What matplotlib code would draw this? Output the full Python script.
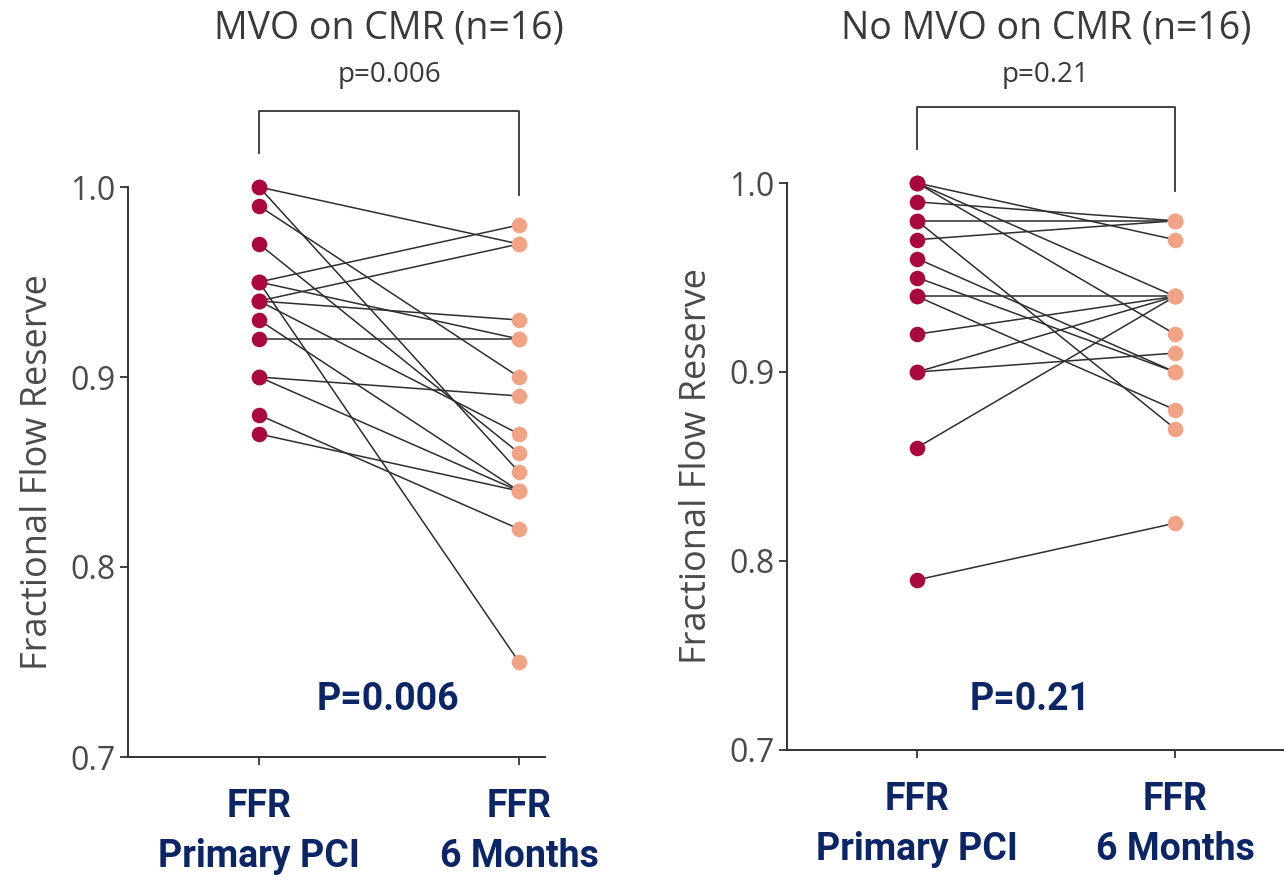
import matplotlib
matplotlib.use("Agg")
import matplotlib.pyplot as plt

# Paired FFR values per patient: at primary PCI and at 6 months
mvo_pci = [1.00, 1.00, 0.99, 0.97, 0.95, 0.95, 0.95, 0.94, 0.94, 0.94, 0.93, 0.92, 0.90, 0.90, 0.88, 0.87]
mvo_6m = [0.97, 0.85, 0.90, 0.86, 0.98, 0.92, 0.75, 0.97, 0.93, 0.87, 0.84, 0.92, 0.89, 0.84, 0.82, 0.84]

nomvo_pci = [1.00, 1.00, 1.00, 0.99, 0.98, 0.98, 0.97, 0.96, 0.95, 0.94, 0.94, 0.92, 0.90, 0.90, 0.86, 0.79]
nomvo_6m = [0.97, 0.94, 0.92, 0.98, 0.98, 0.87, 0.98, 0.90, 0.90, 0.94, 0.88, 0.94, 0.94, 0.91, 0.94, 0.82]

titles = ["MVO on CMR (n=16)", "No MVO on CMR (n=16)"]
p_small = ["p=0.006", "p=0.21"]
p_big = ["P=0.006", "P=0.21"]
x_labels = ["FFR\nPrimary PCI", "FFR\n6 Months"]
y_ticks = [0.7, 0.8, 0.9, 1.0]

NAVY = "#0b2566"
GREY_TXT = "#4a4a4a"
PCI_COL = "#a8083e"
M6_COL = "#f2a285"
LINE_COL = "#2e2e2e"
BOLD_FONT = ["Roboto", "DejaVu Sans"]

fig = plt.figure(figsize=(12.84, 8.82), dpi=100)
W, H = 1284, 882

def px_axes(l, r, top, bot):
    return fig.add_axes([l / W, 1 - bot / H, (r - l) / W, (bot - top) / H])

axes = [px_axes(128, 545, 187, 757), px_axes(787, 1284, 183, 750)]
xlims = [(-0.504, 1.1), (-0.504, 1.422)]
groups = [(mvo_pci, mvo_6m), (nomvo_pci, nomvo_6m)]
centers = [389, 1046]
pbig_x = [388, 1030]

for i, ax in enumerate(axes):
    pci, m6 = groups[i]
    for a, b in zip(pci, m6):
        ax.plot([0, 1], [a, b], color=LINE_COL, lw=1.1, zorder=2, clip_on=False)
    ax.scatter([0] * len(pci), pci, s=125, color=PCI_COL, zorder=3,
               clip_on=False, linewidths=0)
    ax.scatter([1] * len(m6), m6, s=125, color=M6_COL, zorder=3,
               clip_on=False, linewidths=0)

    ax.set_xlim(*xlims[i])
    ax.set_ylim(0.7, 1.0)
    ax.set_yticks(y_ticks)
    ax.set_yticklabels([f"{t:.1f}" for t in y_ticks], fontsize=23,
                       color=GREY_TXT, family="Open Sans")
    ax.set_xticks([0, 1])
    ax.set_xticklabels(x_labels, fontsize=27, color=NAVY, fontweight="bold",
                       family=BOLD_FONT, linespacing=1.45)
    ax.tick_params(axis="both", direction="out", length=6, width=1.3,
                   color="#333333")
    ax.tick_params(axis="x", pad=16)
    ax.tick_params(axis="y", pad=3)
    for s in ["top", "right"]:
        ax.spines[s].set_visible(False)
    for s in ["left", "bottom"]:
        ax.spines[s].set_color("#333333")
        ax.spines[s].set_linewidth(1.4)
    ax.set_ylabel("Fractional Flow Reserve", fontsize=26, color=GREY_TXT,
                  family="Open Sans", labelpad=10)
    ax.patch.set_alpha(0)

    # significance bracket above the two columns
    top = 1.04
    ax.plot([0, 0, 1, 1], [1.018, top, top, 0.996], color="#333333",
            lw=1.3, clip_on=False)

    fig.text(centers[i] / W, 1 - 28 / H, titles[i], ha="center", va="center",
             fontsize=27, color="#3a3a3a", family="Open Sans")
    fig.text(centers[i] / W, 1 - 75 / H, p_small[i], ha="center",
             va="center", fontsize=20, color="#3a3a3a", family="Open Sans")
    fig.text(pbig_x[i] / W, 1 - 700 / H, p_big[i], ha="center", va="center",
             fontsize=27, color=NAVY, fontweight="bold", family=BOLD_FONT)

fig.savefig("out.png", dpi=100)
